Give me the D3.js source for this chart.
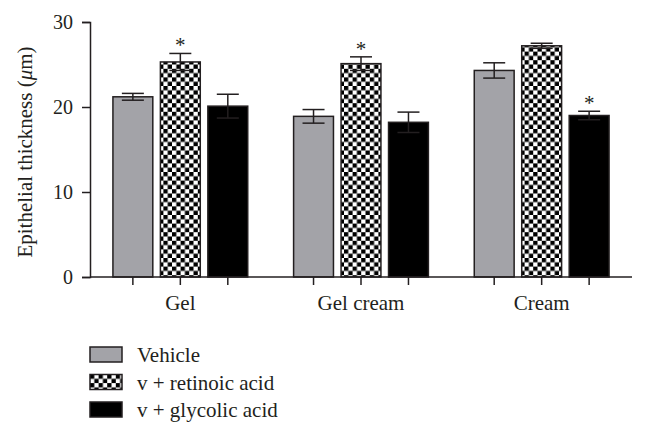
<!DOCTYPE html>
<html>
<head>
<meta charset="utf-8">
<script src="https://cdn.jsdelivr.net/npm/d3@7"></script>
<style>
  body { margin: 0; background: #fff; }
  svg text { font-family: "Liberation Serif", "DejaVu Serif", serif; fill: #231f20; }
</style>
</head>
<body>
<div id="chart"></div>
<script>
// data
const groups = ['Gel', 'Gel cream', 'Cream'];
const seriesNames = ['Vehicle', 'v + retinoic acid', 'v + glycolic acid'];
const vehicle = [21.2, 18.9, 24.3];
const retinoic = [25.3, 25.1, 27.2];
const glycolic = [20.1, 18.2, 19.0];
const vehicleErr = [0.4, 0.8, 0.9];
const retinoicErr = [1.0, 0.8, 0.3];
const glycolicErr = [1.4, 1.2, 0.5];
// significance marks: [group index, series index]
const stars = [[0, 1], [1, 1], [2, 2]];
const yTicks = [0, 10, 20, 30];

const totalWidth = 646
const totalHeight = 434

const svg = d3.select('#chart')
    .append('svg')
    .attr('width', totalWidth)
    .attr('height', totalHeight);

// checkerboard fill
const defs = svg.append('defs');
const pat = defs.append('pattern')
    .attr('id', 'checker')
    .attr('patternUnits', 'userSpaceOnUse')
    .attr('width', 8.6)
    .attr('height', 8.6);
pat.append('rect').attr('width', 8.6).attr('height', 8.6).attr('fill', '#fff');
pat.append('rect').attr('width', 4.3).attr('height', 4.3).attr('fill', '#000');
pat.append('rect').attr('x', 4.3).attr('y', 4.3).attr('width', 4.3).attr('height', 4.3).attr('fill', '#000');

const fills = ['#a3a3a8', 'url(#checker)', '#000'];
const values = [vehicle, retinoic, glycolic];
const errs = [vehicleErr, retinoicErr, glycolicErr];

const xScale = d3.scaleBand()
    .domain(groups)
    .range([90, 632])
    .padding(0);

const inner = d3.scaleBand()
    .domain(d3.range(seriesNames.length))
    .range([-75, 75])
    .padding(0.16);

const yScale = d3.scaleLinear()
    .domain([0, 30])
    .range([277, 22]);

const rows = [];
groups.forEach((g, gi) => {
    seriesNames.forEach((s, si) => {
        rows.push({ g, gi, si, v: values[si][gi], e: errs[si][gi] });
    });
});
const cx = d => xScale(d.g) + xScale.bandwidth() / 2 + inner(d.si) + inner.bandwidth() / 2;

// error bars, upper half
const errG = svg.append('g').attr('stroke', '#231f20').attr('stroke-width', 1.5);
errG.selectAll('.stem')
    .data(rows)
    .enter()
    .append('line')
    .attr('x1', cx).attr('x2', cx)
    .attr('y1', d => yScale(d.v + d.e))
    .attr('y2', d => yScale(d.v));
errG.selectAll('.cap')
    .data(rows)
    .enter()
    .append('line')
    .attr('x1', d => cx(d) - 11).attr('x2', d => cx(d) + 11)
    .attr('y1', d => yScale(d.v + d.e))
    .attr('y2', d => yScale(d.v + d.e));

svg.selectAll('rect.bar')
    .data(rows)
    .enter()
    .append('rect')
    .attr('class', 'bar')
    .attr('x', d => cx(d) - inner.bandwidth() / 2)
    .attr('width', inner.bandwidth())
    .attr('y', d => yScale(d.v))
    .attr('height', d => yScale(0) - yScale(d.v))
    .attr('fill', d => fills[d.si])
    .attr('stroke', '#231f20')
    .attr('stroke-width', 1.5);

// lower half over the bars
const errLow = svg.append('g').attr('stroke', '#231f20').attr('stroke-width', 1.5);
errLow.selectAll('.stem')
    .data(rows)
    .enter()
    .append('line')
    .attr('x1', cx).attr('x2', cx)
    .attr('y1', d => yScale(d.v))
    .attr('y2', d => yScale(d.v - d.e));
errLow.selectAll('.cap')
    .data(rows)
    .enter()
    .append('line')
    .attr('x1', d => cx(d) - 11).attr('x2', d => cx(d) + 11)
    .attr('y1', d => yScale(d.v - d.e))
    .attr('y2', d => yScale(d.v - d.e));

// asterisks
svg.selectAll('text.star')
    .data(stars)
    .enter()
    .append('text')
    .attr('class', 'star')
    .attr('text-anchor', 'middle')
    .attr('font-size', 21)
    .attr('x', d => cx({ g: groups[d[0]], si: d[1] }))
    .attr('y', d => yScale(values[d[1]][d[0]] + errs[d[1]][d[0]]) - 1)
    .text('*');

// y axis
const yAxis = svg.append('g')
    .attr('transform', 'translate(90,0)')
    .call(d3.axisLeft(yScale).tickValues(yTicks).tickSize(8).tickPadding(9));
yAxis.select('.domain').attr('stroke', '#231f20').attr('stroke-width', 1.5);
yAxis.selectAll('.tick line').attr('stroke', '#231f20').attr('stroke-width', 1.5);
yAxis.selectAll('.tick text')
    .attr('font-size', 20)
    .attr('fill', '#231f20');

svg.append('text')
    .attr('text-anchor', 'middle')
    .attr('transform', 'rotate(-90)')
    .attr('x', -152)
    .attr('y', 32)
    .attr('font-size', 21)
    .html('Epithelial thickness (<tspan font-style="italic">μ</tspan>m)');

// x axis
svg.append('line')
    .attr('x1', 90).attr('x2', 632)
    .attr('y1', 277).attr('y2', 277)
    .attr('stroke', '#231f20')
    .attr('stroke-width', 1.5);
svg.selectAll('line.xtick')
    .data(rows)
    .enter()
    .append('line')
    .attr('x1', cx).attr('x2', cx)
    .attr('y1', 277).attr('y2', 285)
    .attr('stroke', '#231f20')
    .attr('stroke-width', 1.5);
svg.selectAll('text.group')
    .data(groups)
    .enter()
    .append('text')
    .attr('text-anchor', 'middle')
    .attr('font-size', 21)
    .attr('x', d => xScale(d) + xScale.bandwidth() / 2)
    .attr('y', 310)
    .text(d => d);

// legend
const legend = svg.selectAll('g.leg')
    .data(seriesNames)
    .enter()
    .append('g')
    .attr('transform', (d, i) => `translate(90,${347 + i * 27.5})`);
legend.append('rect')
    .attr('width', 32)
    .attr('height', 15)
    .attr('fill', (d, i) => fills[i])
    .attr('stroke', '#231f20')
    .attr('stroke-width', 1.5);
legend.append('text')
    .attr('x', 47)
    .attr('y', 15)
    .attr('font-size', 21)
    .text(d => d);
</script>
</body>
</html>
